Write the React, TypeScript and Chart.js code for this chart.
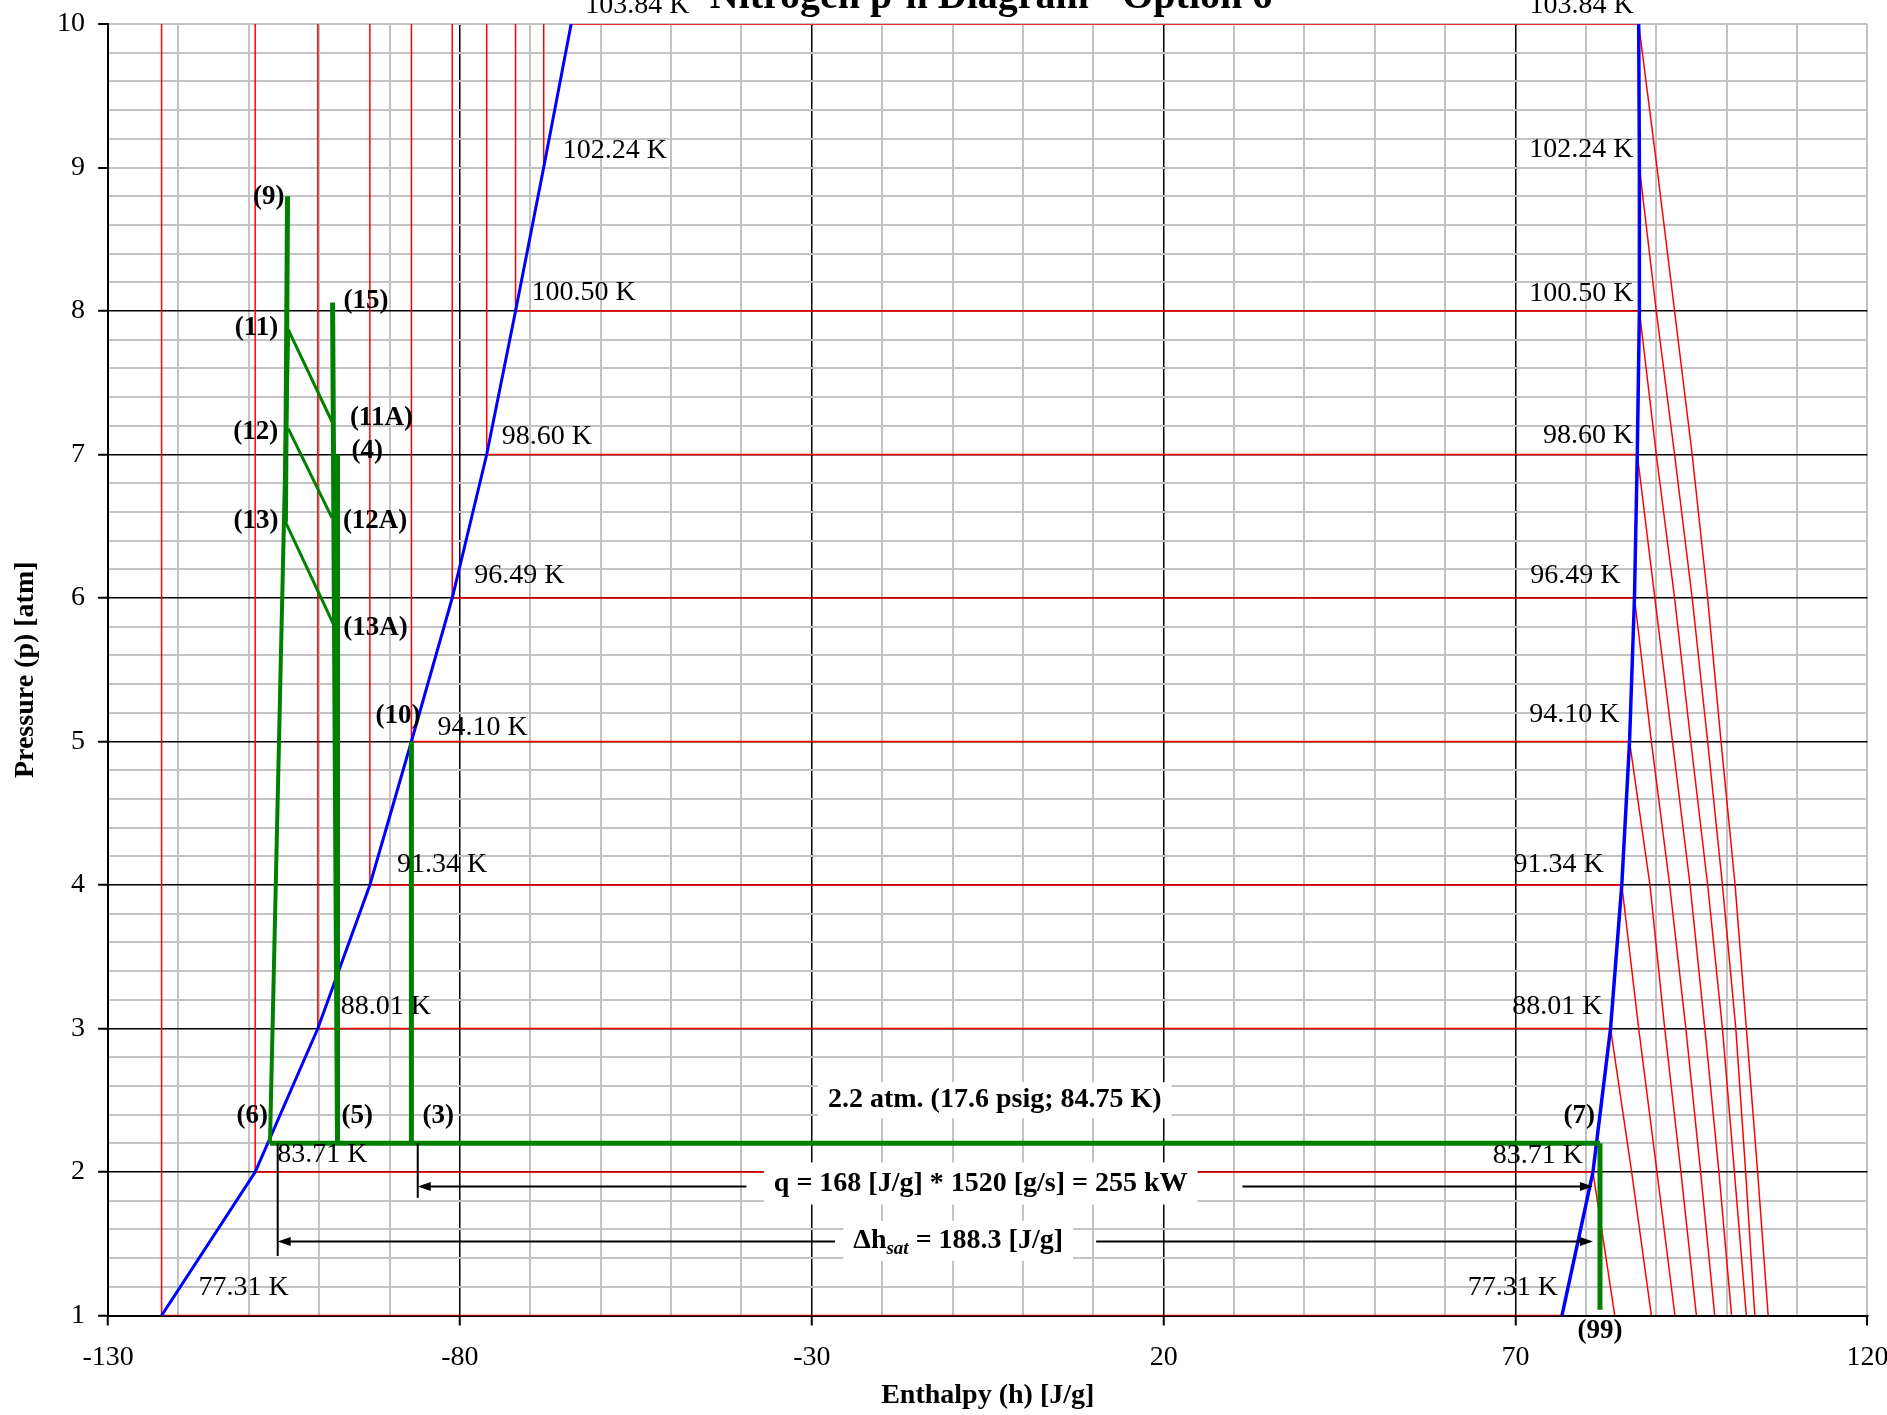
import React, { useEffect, useRef } from 'react';
import { Chart, registerables } from 'chart.js';

Chart.register(...registerables);

const FONT = '"Liberation Serif", "Times New Roman", serif';

// ---------- axes ----------
const hMin = -130;
const hMax = 120;
const pMin = 1;
const pMax = 10;
const hMajorStep = 50;
const hMinorStep = 10;
const pMinorStep = 0.2;

const titleText = 'Nitrogen p-h Diagram - Option 6';
const xTitle = 'Enthalpy (h) [J/g]';
const yTitle = 'Pressure (p) [atm]';

// ---------- saturation data ----------
const satPressure = [1, 2, 3, 4, 5, 6, 7, 8, 9, 10];
const satTempLabels = ['77.31 K', '83.71 K', '88.01 K', '91.34 K', '94.10 K', '96.49 K', '98.60 K', '100.50 K', '102.24 K', '103.84 K'];
const liquidH = [-122.4, -109.1, -100.2, -92.8, -86.9, -81.1, -76.2, -72.1, -68.1, -64.2];
const vaporH = [76.6, 81.0, 83.5, 85.1, 86.2, 86.9, 87.3, 87.6, 87.6, 87.5];
const twoPhaseIsobars = [1, 2, 3, 4, 5, 6, 7, 8, 10];

// vapour isotherms: h at p = psat, psat-1, ..., 1
const vaporIso_83_71 = [81.0, 84.1];
const vaporIso_88_01 = [83.5, 86.5, 89.3];
const vaporIso_91_34 = [85.1, 87.5, 90.1, 92.65];
const vaporIso_94_10 = [86.2, 89.1, 91.2, 93.5, 95.7];
const vaporIso_96_49 = [86.9, 89.3, 91.9, 94.2, 96.3, 98.3];
const vaporIso_98_60 = [87.3, 89.8, 92.3, 94.8, 96.9, 98.9, 100.7];
const vaporIso_100_50 = [87.6, 90.0, 92.6, 94.9, 97.3, 99.4, 101.1, 102.8];
const vaporIso_102_24 = [87.6, 90.0, 92.6, 95.1, 97.3, 99.4, 101.3, 102.7, 104.0];
const vaporIso_103_84 = [87.5, 90.1, 92.6, 95.1, 97.3, 99.2, 101.2, 102.8, 104.4, 105.9];
const vaporIsotherms = [
  vaporIso_83_71, vaporIso_88_01, vaporIso_91_34, vaporIso_94_10, vaporIso_96_49,
  vaporIso_98_60, vaporIso_100_50, vaporIso_102_24, vaporIso_103_84,
];

// ---------- process cycle ----------
const stateNames = ['3', '4', '5', '6', '7', '9', '10', '11', '11A', '12', '12A', '13', '13A', '15', '99'];
const stateH = [-86.9, -97.4, -97.4, -107.0, 82.0, -104.5, -86.9, -104.4, -98.2, -104.4, -98.2, -104.8, -98.0, -98.1, 82.0];
const stateP = [2.2, 7.0, 2.2, 2.2, 2.2, 8.8, 5.0, 7.87, 7.23, 7.18, 6.56, 6.53, 5.82, 8.06, 1.04];
const cyclePaths = [
  ['6', '7'], ['7', '99'], ['10', '3'], ['15', '5'], ['4', '5'], ['9', '13'],
  ['6', '11'], ['11', '11A'], ['12', '12A'], ['13', '13A'],
];

// ---------- notes ----------
const isobarNote = '2.2 atm. (17.6 psig; 84.75 K)';
const isobarNoteAt = [-4, 2.5];
const qNote = 'q = 168 [J/g] * 1520 [g/s] = 255 kW';
const qNoteAt = [-6, 1.92];
const dhNoteMain = '\u0394h';
const dhNoteSub = 'sat';
const dhNoteRest = ' = 188.3 [J/g]';
const dhNoteAt = [-9.2, 1.52];
const qArrow = { from: -86.0, to: 81.0, p: 1.9, gapFrom: -39.3, gapTo: 31.2, tickTop: 2.2, tickBottom: 1.82 };
const dhArrow = { from: -105.9, to: 81.0, p: 1.52, gapFrom: -26.7, gapTo: 10.4, tickTop: 2.2, tickBottom: 1.415 };

// ---------- layout / style (not data) ----------
const W = 1887;
const H = 1415;
const RED = '#ff0000';
const BLUE = '#0000ff';
const GREEN = '#008000';
const GRAY = '#c3c3c3';
const cyclePathWidths = [5, 5, 5, 5, 5, 5, 4, 3, 3, 3];
const leftTempOffsets = [[37, -28], [22, -17], [23, -22], [27, -20], [26, -14], [22, -22], [15, -18], [16, -18], [19, -17], [14, -18]];
const rightTempOffsets = [[-4, -28], [-10, -16], [-8, -22], [-18, -20], [-10, -27], [-14, -22], [-4, -19], [-6, -17], [-6, -18], [-5, -18]];
const stateLabelLayout: Record<string, [CanvasTextAlign, number, number]> = {
  '3': ['left', 11, -27], '4': ['left', 14, -3], '5': ['left', 4, -27], '6': ['right', -2, -27],
  '7': ['right', -5, -27], '9': ['right', -3, 1], '10': ['right', 9, -25], '11': ['right', -10, -2],
  '11A': ['left', 18, -3], '12': ['right', -10, 3], '12A': ['left', 11, 3], '13': ['right', -7, -1],
  '13A': ['left', 10, 4], '15': ['left', 11, -1], '99': ['center', 0, 21],
};

const near = (a: number, b: number) => Math.abs(a - b) < 1e-6;
const isMajorH = (v: number) => {
  const k = (v - hMin) / hMajorStep;
  return near(k, Math.round(k));
};
const isInt = (v: number) => near(v, Math.round(v));

export default function App() {
  const ref = useRef<HTMLCanvasElement>(null);

  useEffect(() => {
    const canvas = ref.current;
    if (!canvas) return;

    const datasets: any[] = [];
    const addLine = (pts: number[][], color: string, width: number, order: number) => {
      datasets.push({
        data: pts.map(([x, y]) => ({ x, y })),
        borderColor: color,
        backgroundColor: color,
        borderWidth: width,
        showLine: true,
        pointRadius: 0,
        pointHoverRadius: 0,
        fill: false,
        tension: 0,
        order,
        borderCapStyle: 'butt',
        borderJoinStyle: 'miter',
      });
    };

    satPressure.forEach((p, i) => {
      if (p < pMax) addLine([[liquidH[i], p], [liquidH[i], pMax]], RED, 1.5, 3);
    });
    satPressure.forEach((p, i) => {
      if (twoPhaseIsobars.includes(p)) addLine([[liquidH[i], p], [vaporH[i], p]], RED, 1.5, 3);
    });
    vaporIsotherms.forEach((arr, k) => {
      const ps = satPressure[k + 1];
      addLine(arr.map((h, j) => [h, ps - j]), RED, 1.5, 3);
    });
    addLine(liquidH.map((h, i) => [h, satPressure[i]]), BLUE, 3, 2);
    addLine(vaporH.map((h, i) => [h, satPressure[i]]), BLUE, 3.5, 2);
    const st = (n: string) => {
      const i = stateNames.indexOf(n);
      return [stateH[i], stateP[i]];
    };
    cyclePaths.forEach((path, k) => addLine(path.map(st), GREEN, cyclePathWidths[k], 1));

    const annot = {
      id: 'annot',
      afterDatasetsDraw(chart: any) {
        const { ctx, scales } = chart;
        const X = (h: number) => scales.x.getPixelForValue(h);
        const Y = (p: number) => scales.y.getPixelForValue(p);
        const txt = (s: string, x: number, y: number, font: string, align: CanvasTextAlign = 'left') => {
          ctx.font = font;
          ctx.textAlign = align;
          ctx.textBaseline = 'middle';
          ctx.fillStyle = '#000';
          ctx.fillText(s, x, y);
        };
        const bold = `bold 28px ${FONT}`;
        const reg = `28px ${FONT}`;
        ctx.save();

        const boxNote = (s: string, at: number[], padX: number, halfH: number) => {
          ctx.font = bold;
          const w = ctx.measureText(s).width;
          const cx = X(at[0]);
          const cy = Y(at[1]);
          ctx.fillStyle = '#fff';
          ctx.fillRect(cx - w / 2 - padX, cy - halfH, w + 2 * padX, 2 * halfH);
          txt(s, cx, cy, bold, 'center');
        };
        boxNote(isobarNote, isobarNoteAt, 10, 18);
        boxNote(qNote, qNoteAt, 10, 21);

        {
          const fSub = `bold italic 19px ${FONT}`;
          ctx.font = bold;
          const w1 = ctx.measureText(dhNoteMain).width;
          const w3 = ctx.measureText(dhNoteRest).width;
          ctx.font = fSub;
          const w2 = ctx.measureText(dhNoteSub).width;
          const tw = w1 + w2 + w3;
          const cx = X(dhNoteAt[0]);
          const cy = Y(dhNoteAt[1]);
          ctx.fillStyle = '#fff';
          ctx.fillRect(cx - tw / 2 - 10, cy - 20, tw + 20, 40);
          const x0 = cx - tw / 2;
          txt(dhNoteMain, x0, cy, bold, 'left');
          txt(dhNoteSub, x0 + w1, cy + 8, fSub, 'left');
          txt(dhNoteRest, x0 + w1 + w2, cy, bold, 'left');
        }

        const arrowHead = (tipX: number, y: number, dir: number) => {
          ctx.beginPath();
          ctx.moveTo(tipX, y);
          ctx.lineTo(tipX - dir * 13, y - 4.5);
          ctx.lineTo(tipX - dir * 13, y + 4.5);
          ctx.closePath();
          ctx.fillStyle = '#000';
          ctx.fill();
        };
        const drawArrow = (a: typeof qArrow) => {
          const y = Math.round(Y(a.p)) + 0.5;
          ctx.strokeStyle = '#000';
          ctx.lineWidth = 2;
          ctx.beginPath();
          ctx.moveTo(X(a.from) + 6, y);
          ctx.lineTo(X(a.gapFrom), y);
          ctx.moveTo(X(a.gapTo), y);
          ctx.lineTo(X(a.to) - 6, y);
          ctx.stroke();
          arrowHead(X(a.from), y, -1);
          arrowHead(X(a.to), y, 1);
          ctx.beginPath();
          ctx.moveTo(X(a.from), Y(a.tickTop));
          ctx.lineTo(X(a.from), Y(a.tickBottom));
          ctx.stroke();
        };
        drawArrow(qArrow);
        drawArrow(dhArrow);

        satPressure.forEach((p, i) => {
          const [ldx, ldy] = leftTempOffsets[i];
          txt(satTempLabels[i], X(liquidH[i]) + ldx, Y(p) + ldy, reg, 'left');
          const [rdx, rdy] = rightTempOffsets[i];
          txt(satTempLabels[i], X(vaporH[i]) + rdx, Y(p) + rdy, reg, 'right');
        });

        stateNames.forEach((n, i) => {
          const [align, dx, dy] = stateLabelLayout[n];
          txt(`(${n})`, X(stateH[i]) + dx, Y(stateP[i]) + dy, `bold 27px ${FONT}`, align);
        });

        const ca = chart.chartArea;
        txt(titleText, 991, -2, `bold 40px ${FONT}`, 'center');
        txt(xTitle, (ca.left + ca.right) / 2, 1396, bold, 'center');
        ctx.save();
        ctx.translate(26, (ca.top + ca.bottom) / 2);
        ctx.rotate(-Math.PI / 2);
        txt(yTitle, 0, 0, bold, 'center');
        ctx.restore();

        ctx.restore();
      },
    };

    const chart = new Chart(canvas, {
      type: 'scatter',
      data: { datasets },
      options: {
        animation: false,
        responsive: false,
        devicePixelRatio: 1,
        events: [],
        layout: { padding: { left: 0, right: W - 1867.4, top: 24, bottom: 0 } },
        plugins: {
          legend: { display: false },
          tooltip: { enabled: false },
          title: { display: false },
        },
        scales: {
          x: {
            type: 'linear',
            min: hMin,
            max: hMax,
            afterFit: (scale: any) => {
              scale.height = H - 1315.5;
              scale.paddingLeft = 0;
              scale.paddingRight = 0;
            },
            ticks: {
              stepSize: hMinorStep,
              autoSkip: false,
              maxRotation: 0,
              padding: 15,
              color: '#000',
              font: { family: FONT, size: 28 },
              callback: (v: any) => (isMajorH(Number(v)) ? String(Math.round(Number(v))) : ''),
            },
            grid: {
              color: (c: any) => {
                const v = c.tick ? c.tick.value : 0;
                return isMajorH(v) && !near(v, hMax) ? '#000' : GRAY;
              },
              lineWidth: (c: any) => {
                const v = c.tick ? c.tick.value : 0;
                return isMajorH(v) && !near(v, hMax) ? 1.5 : 2;
              },
              tickColor: (c: any) => {
                const v = c.tick ? c.tick.value : 0;
                return isMajorH(v) ? '#000' : 'rgba(0,0,0,0)';
              },
              tickLength: 10,
              tickWidth: 2,
            },
            border: { display: true, color: '#000', width: 2 },
          },
          y: {
            type: 'linear',
            min: pMin,
            max: pMax,
            afterFit: (scale: any) => {
              scale.width = 108.1;
              scale.paddingTop = 0;
              scale.paddingBottom = 0;
            },
            ticks: {
              stepSize: pMinorStep,
              autoSkip: false,
              padding: 13,
              color: '#000',
              font: { family: FONT, size: 28 },
              callback: (v: any) => (isInt(Number(v)) ? String(Math.round(Number(v))) : ''),
            },
            grid: {
              color: (c: any) => {
                const v = c.tick ? c.tick.value : 0;
                return isInt(v) && !near(v, 9) && !near(v, pMax) ? '#000' : GRAY;
              },
              lineWidth: (c: any) => {
                const v = c.tick ? c.tick.value : 0;
                return isInt(v) && !near(v, 9) && !near(v, pMax) ? 1.5 : 2;
              },
              tickColor: (c: any) => {
                const v = c.tick ? c.tick.value : 0;
                return isInt(v) ? '#000' : 'rgba(0,0,0,0)';
              },
              tickLength: 10,
              tickWidth: 2,
            },
            border: { display: true, color: '#000', width: 2 },
          },
        },
      } as any,
      plugins: [annot],
    });

    return () => chart.destroy();
  }, []);

  return (
    <div style={{ position: 'absolute', left: 0, top: 0, width: W, height: H, background: '#fff' }}>
      <canvas ref={ref} width={W} height={H} style={{ display: 'block', width: W, height: H }} />
    </div>
  );
}
